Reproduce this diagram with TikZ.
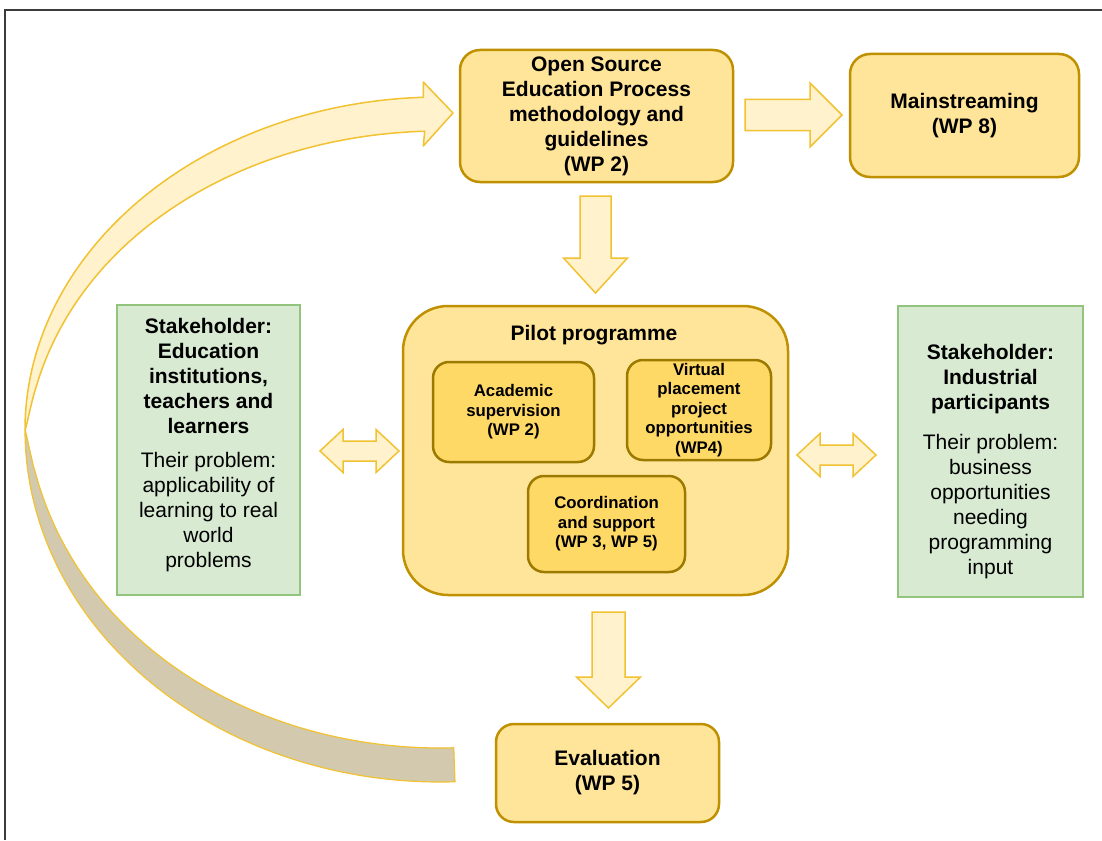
\documentclass[tikz,border=0pt]{standalone}
\usepackage{fontspec}
\setmainfont{Liberation Sans}
\usetikzlibrary{calc}
\definecolor{boxfill}{HTML}{FFE599}
\definecolor{boxline}{HTML}{BF9000}
\definecolor{innerfill}{HTML}{FFD966}
\definecolor{innerline}{HTML}{9C7A00}
\definecolor{arrfill}{HTML}{FFF2CC}
\definecolor{arrline}{HTML}{F1C232}
\definecolor{grfill}{HTML}{D9EAD3}
\definecolor{grline}{HTML}{93C47D}
\definecolor{tanfill}{HTML}{D3C9AF}
\definecolor{framec}{HTML}{3C3C3C}
% single block arrow: from #1 to #2, half shaft #3, half head #4, head length #5
\newcommand\blockarr[5]{%
  \coordinate (hb) at ($(#2)!#5!(#1)$);
  \draw[blockarrow] ($(#1)!#3!90:(#2)$) -- ($(hb)!#3!-90:(#1)$) -- ($(hb)!#4!-90:(#1)$) -- (#2)
     -- ($(hb)!#4!90:(#1)$) -- ($(hb)!#3!90:(#1)$) -- ($(#1)!#3!-90:(#2)$) -- cycle;
}
% double block arrow between #1 and #2
\newcommand\dblarr[5]{%
  \coordinate (ha) at ($(#1)!#5!(#2)$);
  \coordinate (hb) at ($(#2)!#5!(#1)$);
  \draw[blockarrow] (#1) -- ($(ha)!#4!90:(#2)$) -- ($(ha)!#3!90:(#2)$) -- ($(hb)!#3!-90:(#1)$)
     -- ($(hb)!#4!-90:(#1)$) -- (#2) -- ($(hb)!#4!90:(#1)$) -- ($(hb)!#3!90:(#1)$)
     -- ($(ha)!#3!-90:(#2)$) -- ($(ha)!#4!-90:(#2)$) -- cycle;
}
\begin{document}
\begin{tikzpicture}[x=1pt,y=-1pt,
  bigfont/.style={font=\fontsize{21}{25}\selectfont\bfseries, align=center, inner sep=0},
  normfont/.style={font=\fontsize{21}{25}\selectfont, align=center, inner sep=0},
  smallfont/.style={font=\fontsize{16.8}{19.5}\selectfont\bfseries, align=center, inner sep=0},
  mainbox/.style={draw=boxline, fill=boxfill, line width=2.5pt, bigfont},
  innerbox/.style={draw=innerline, fill=innerfill, line width=2.5pt, rounded corners=16, smallfont},
  greenbox/.style={draw=grline, fill=grfill, line width=2pt, inner sep=0},
  blockarrow/.style={fill=arrfill, draw=arrline, line width=1.5pt, line join=miter},
  curvup/.style={fill=arrfill, draw=arrline, line width=1.5pt, line join=round},
  curvdown/.style={fill=tanfill, draw=arrline, line width=1.2pt, line join=round}]
\useasboundingbox (0,0) rectangle (1102,840);
\fill[white] (0,0) rectangle (1102,840);
% frame
\draw[framec, line width=2pt] (4.5,840) -- (4.5,10) -- (1102,10);

% curved feedback arrow (twisted band)
\draw[curvdown] plot[domain=180:87.93, samples=90] ({440+415*cos(\x)},{430+352*sin(\x)})
   -- plot[domain=87.93:180, samples=90]
      ({440+(415-34*pow(max(abs(sin(\x)),0.001),0.75))*cos(\x)},{430+(352-34*pow(max(abs(sin(\x)),0.001),0.75))*sin(\x)})
   -- cycle;
\draw[curvup] plot[domain=267.7:180, samples=90] ({440+415*cos(\x)},{430+333*sin(\x)})
   -- plot[domain=180:267.7, samples=90]
      ({440+(415-34*pow(max(abs(sin(\x)),0.001),0.75))*cos(\x)},{430+(333-34*pow(max(abs(sin(\x)),0.001),0.75))*sin(\x)})
   -- (423.3,146) -- (453,113) -- (423.3,82) -- (423.3,97.3) -- cycle;

% main boxes
\node[mainbox, minimum width=273, minimum height=132, rounded corners=20] (os) at (596.5,116)
  {Open Source\\Education Process\\methodology and\\guidelines\\(WP 2)};
\node[mainbox, minimum width=229, minimum height=123, rounded corners=20] (ms) at (964.5,115.5)
  {Mainstreaming\\(WP 8)};
\node[mainbox, minimum width=385, minimum height=289, rounded corners=45] (pilot) at (595.5,450.5) {};
\node[bigfont] (pt) at (594,335) {Pilot programme};
\node[innerbox, minimum width=161, minimum height=100] (acad) at (513.5,412)
  {Academic\\supervision\\(WP 2)};
\node[innerbox, minimum width=144, minimum height=100] (virt) at (699,410)
  {Virtual\\placement\\project\\opportunities\\(WP4)};
\node[innerbox, minimum width=157, minimum height=96] (coord) at (606.5,524)
  {Coordination\\and support\\(WP 3, WP 5)};
\node[mainbox, minimum width=223, minimum height=98, rounded corners=18] (ev) at (607.5,773)
  {Evaluation\\(WP 5)};

% stakeholder boxes
\node[greenbox, minimum width=183, minimum height=290] (sl) at (208.5,450) {};
\node[bigfont] (slt) at (208.5,376) {Stakeholder:\\Education\\institutions,\\teachers and\\learners};
\node[normfont] (slb) at (208.5,512.5) {Their problem:\\applicability of\\learning to real\\world\\problems};
\node[greenbox, minimum width=185, minimum height=291] (sr) at (990.5,451.5) {};
\node[bigfont] (srt) at (990.5,379) {Stakeholder:\\Industrial\\participants};
\node[normfont] (srb) at (990.5,506.5) {Their problem:\\business\\opportunities\\needing\\programming\\input};

% block arrows
\coordinate (a1s) at (745,115);   \coordinate (a1e) at (842,115);
\blockarr{a1s}{a1e}{15.5pt}{32pt}{32pt}
\coordinate (a2s) at (595.5,196); \coordinate (a2e) at (595.5,293);
\blockarr{a2s}{a2e}{15.5pt}{32pt}{35pt}
\coordinate (a3s) at (608.5,612); \coordinate (a3e) at (608.5,708);
\blockarr{a3s}{a3e}{16.5pt}{32pt}{31pt}
\coordinate (d1s) at (320,451);   \coordinate (d1e) at (399,451);
\dblarr{d1s}{d1e}{10pt}{21.5pt}{23pt}
\coordinate (d2s) at (797,455);   \coordinate (d2e) at (876,455);
\dblarr{d2s}{d2e}{10pt}{21.5pt}{23pt}
\end{tikzpicture}
\end{document}
